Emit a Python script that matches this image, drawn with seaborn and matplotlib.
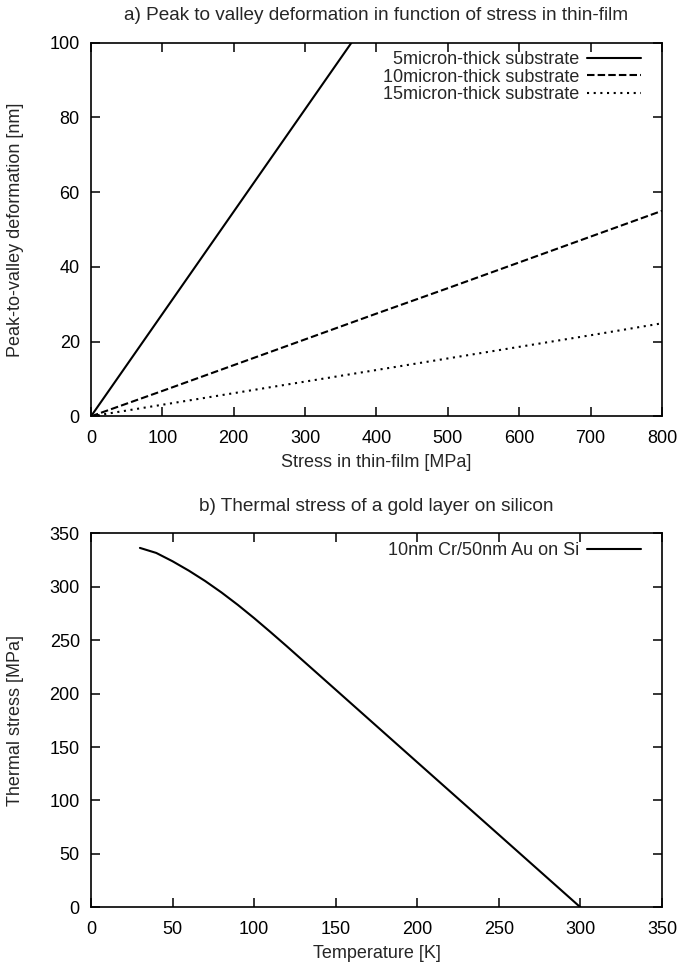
import matplotlib
matplotlib.use("Agg")
import matplotlib.pyplot as plt
import seaborn as sns

sns.set_style("white")
plt.rcParams["font.family"] = ["Liberation Sans", "DejaVu Sans"]
plt.rcParams["font.size"] = 13

# panel a) peak-to-valley deformation vs. stress in thin film
stress_mpa = [0, 100, 200, 300, 400, 500, 600, 700, 800]
deform_5um = [0, 27.4, 54.8, 82.2, 109.6, 137.0, 164.4, 191.8, 219.2]
deform_10um = [0, 6.8, 13.7, 20.6, 27.5, 34.3, 41.2, 48.1, 55.0]
deform_15um = [0, 3.1, 6.2, 9.3, 12.4, 15.5, 18.6, 21.7, 24.9]

# panel b) thermal stress of Cr/Au layer on Si
temp_k = [30, 40, 50, 60, 70, 80, 90, 100, 110, 120, 150, 200, 250, 300]
thermal_stress = [336.3, 331.6, 323.8, 315.0, 305.3, 294.6, 283.0, 270.6,
                  257.6, 244.3, 203.6, 135.7, 67.9, 0.0]

fig = plt.figure(figsize=(6.81, 9.68), dpi=100)
ax1 = fig.add_axes([0.1336, 0.5699, 0.8385, 0.386])
ax2 = fig.add_axes([0.1336, 0.0627, 0.8385, 0.3864])

lw = 1.5
sns.lineplot(x=stress_mpa, y=deform_5um, ax=ax1, color="black", lw=lw,
             linestyle="-", label="5micron-thick substrate")
sns.lineplot(x=stress_mpa, y=deform_10um, ax=ax1, color="black", lw=lw,
             linestyle=(0, (3.6, 1.5)), label="10micron-thick substrate")
sns.lineplot(x=stress_mpa, y=deform_15um, ax=ax1, color="black", lw=lw,
             linestyle=(0, (1, 2.2)), label="15micron-thick substrate")
ax1.set_xlim(0, 800)
ax1.set_ylim(0, 100)
ax1.set_xticks(range(0, 801, 100))
ax1.set_yticks(range(0, 101, 20))
ax1.set_title("a) Peak to valley deformation in function of stress in thin-film",
              pad=16, fontsize=13.7)
ax1.set_xlabel("Stress in thin-film [MPa]")
ax1.set_ylabel("Peak-to-valley deformation [nm]")

sns.lineplot(x=temp_k, y=thermal_stress, ax=ax2, color="black", lw=lw,
             label="10nm Cr/50nm Au on Si")
ax2.set_xlim(0, 350)
ax2.set_ylim(0, 350)
ax2.set_xticks(range(0, 351, 50))
ax2.set_yticks(range(0, 351, 50))
ax2.set_title("b) Thermal stress of a gold layer on silicon", pad=16, fontsize=13.7)
ax2.set_xlabel("Temperature [K]")
ax2.set_ylabel("Thermal stress [MPa]")

for ax in (ax1, ax2):
    ax.tick_params(direction="in", top=True, right=True, bottom=True, left=True,
                   length=6.5, width=1.1, colors="black", labelsize=13)
    ax.tick_params(axis="x", pad=9.5)
    ax.tick_params(axis="y", pad=8)
    for sp in ax.spines.values():
        sp.set_visible(True)
        sp.set_color("black")
        sp.set_linewidth(1.2)
    ax.xaxis.set_label_coords(0.5, -0.1)
    ax.yaxis.set_label_coords(-0.117, 0.5)
    ax.legend(loc="upper right", bbox_to_anchor=(0.964, 0.977),
              frameon=False, markerfirst=False, borderaxespad=0, borderpad=0,
              handlelength=3.0, labelspacing=0.02, handletextpad=0.45,
              fontsize=13)

fig.savefig("out.png", dpi=100)
